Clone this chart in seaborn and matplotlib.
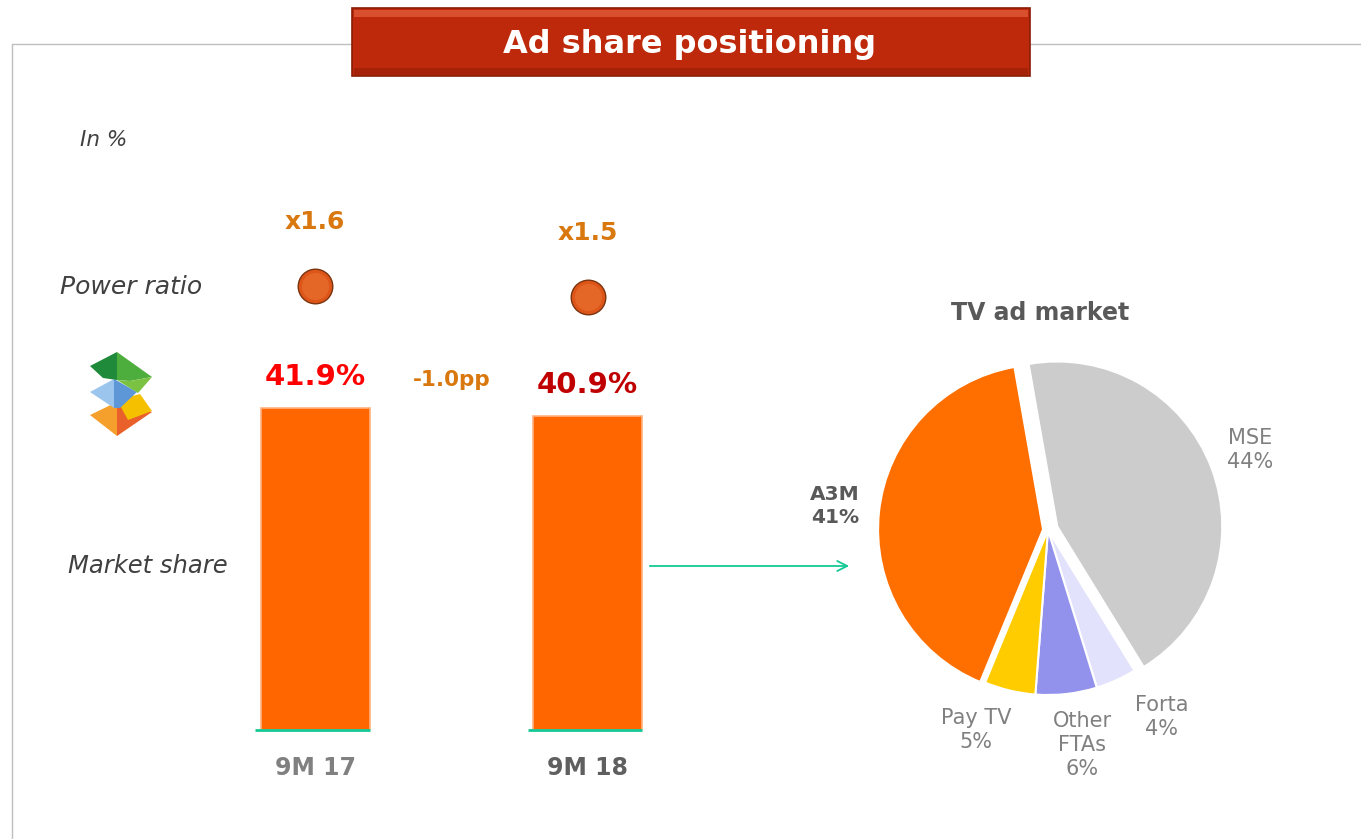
import matplotlib
matplotlib.use("Agg")
import matplotlib.pyplot as plt
from matplotlib.patches import Rectangle, Polygon
import seaborn as sns

# Chart data
periods = ["9M 17", "9M 18"]
market_share = [41.9, 40.9]
power_ratio = [1.6, 1.5]

pie_labels = ["MSE", "Forta", "Other\nFTAs", "Pay TV", "A3M"]
pie_values = [44, 4, 6, 5, 41]

# Styling
W, H = 1361, 839
BAR_COLOR = "#FF6600"
PIE_COLORS = ["#CCCCCC", "#E2E2FC", "#9292EC", "#FFCC00", "#FF6F00"]
ACCENT = "#D9780F"
TEAL = "#14C995"


def px_rect(left, top, width, height):
    """Axes rectangle from pixel coordinates (origin top-left)."""
    return [left / W, (H - top - height) / H, width / W, height / H]


def draw_logo(ax):
    # rough sketch of the group logo: three stacked pyramids
    shapes = [
        ([(90, 415), (117, 402), (117, 436)], "#F5A02C"),
        ([(117, 402), (152, 412), (117, 436)], "#E9602A"),
        ([(117, 400), (140, 394), (152, 411), (128, 420)], "#F5C000"),
        ([(90, 392), (114, 379), (114, 408)], "#9CC5EE"),
        ([(114, 379), (137, 392), (120, 408), (114, 408)], "#5E97D8"),
        ([(90, 366), (117, 352), (117, 380), (103, 378)], "#1E8A3A"),
        ([(117, 352), (152, 377), (130, 381), (117, 380)], "#4DAE3D"),
        ([(117, 380), (130, 381), (152, 377), (138, 393)], "#7CC242"),
    ]
    for pts, col in shapes:
        ax.add_patch(Polygon(pts, closed=True, facecolor=col, edgecolor="none"))


def generate_visuals():
    sns.set_theme(style="white")
    plt.rcParams["font.family"] = ["DejaVu Sans"]

    fig = plt.figure(figsize=(W / 100, H / 100), dpi=100)

    # --- Background layer in pixel coordinates ---
    bg = fig.add_axes([0, 0, 1, 1])
    bg.set_xlim(0, W)
    bg.set_ylim(H, 0)
    bg.axis("off")

    bg.plot([12, W], [44, 44], color="#BFBFBF", lw=1)
    bg.plot([12, 12], [44, H], color="#BFBFBF", lw=1)

    bg.add_patch(Rectangle((352, 8), 678, 68, facecolor="#BF290B",
                           edgecolor="#8A1C06", lw=1.2, zorder=3))
    bg.add_patch(Rectangle((354, 10), 674, 7, facecolor="#D9502E",
                           edgecolor="none", zorder=3))
    bg.add_patch(Rectangle((354, 68), 674, 7, facecolor="#A52208",
                           edgecolor="none", zorder=3))
    bg.text(690, 44, "Ad share positioning", color="white", fontsize=23,
            fontweight="bold", ha="center", va="center", zorder=4)

    for txt, x, y, fs in [("In %", 80, 140, 15.5), ("Power ratio", 60, 287, 18),
                          ("Market share", 68, 566, 17.5)]:
        bg.text(x, y, txt, fontsize=fs, style="italic", color="#404040",
                ha="left", va="center")

    draw_logo(bg)

    bg.annotate("", xy=(852, 566), xytext=(647, 566),
                arrowprops=dict(arrowstyle="->", color=TEAL, lw=1.3,
                                mutation_scale=18))

    bg.text(1040, 313, "TV ad market", fontsize=17, fontweight="bold",
            color="#595959", ha="center", va="center")

    # --- Market share bars ---
    ax = fig.add_axes(px_rect(179, 115.2, 545, 614.8))
    sns.barplot(x=periods, y=market_share, ax=ax, color=BAR_COLOR,
                saturation=1, width=0.4, edgecolor="#FFB27F", linewidth=1.2)
    ax.set_xlim(-0.5, 1.5)
    ax.set_ylim(0, 80)
    ax.patch.set_alpha(0)
    for s in ax.spines.values():
        s.set_visible(False)
    ax.set_yticks([])
    ax.set_xlabel("")
    ax.set_ylabel("")
    ax.tick_params(axis="x", length=0, pad=19)
    for lbl, col in zip(ax.get_xticklabels(), ["#808080", "#5F5F5F"]):
        lbl.set_color(col)
        lbl.set_fontweight("bold")
        lbl.set_fontsize(17)

    for i in range(len(periods)):
        ax.hlines(0, i - 0.22, i + 0.2, color=TEAL, lw=2, clip_on=False)

    for i, (v, col) in enumerate(zip(market_share, ["#FF0000", "#C00000"])):
        ax.annotate(f"{v}%", xy=(i, v), xytext=(0, 22),
                    textcoords="offset points", ha="center", va="center",
                    fontsize=21, fontweight="bold", color=col)

    delta = market_share[1] - market_share[0]
    ax.annotate(f"{delta:+.1f}pp".replace("+", ""), xy=(0.5, sum(market_share) / 2),
                xytext=(0, 23), textcoords="offset points", ha="center",
                va="center", fontsize=15.5, fontweight="bold", color=ACCENT)

    # --- Power ratio spheres ---
    ax2 = fig.add_axes(px_rect(179, 115.2, 545, 614.8))
    ax2.set_xlim(-0.5, 1.5)
    ax2.set_ylim(-2.436, 3.153)
    sns.scatterplot(x=[0, 1], y=power_ratio, ax=ax2, s=620, color="#DD5518",
                    edgecolor="#7A3510", linewidth=1, legend=False, zorder=3)
    sns.scatterplot(x=[0, 1], y=power_ratio, ax=ax2, s=380, color="#F07E3A",
                    linewidth=0, alpha=0.45, legend=False, zorder=4)
    for i, r in enumerate(power_ratio):
        ax2.annotate(f"x{r}", xy=(i, r), xytext=(0, 46),
                     textcoords="offset points", ha="center", va="center",
                     fontsize=18, fontweight="bold", color=ACCENT)
    ax2.axis("off")

    # --- TV ad market pie ---
    R = 165
    cx, cy = 1048, 530
    axp = fig.add_axes(px_rect(cx - 1.35 * R, cy - 1.35 * R, 2.7 * R, 2.7 * R))
    axp.pie(pie_values, colors=PIE_COLORS, startangle=100, counterclock=False,
            explode=[0.06, 0, 0, 0, 0.03],
            wedgeprops=dict(edgecolor="white", linewidth=1.5))
    axp.set_xlim(-1.35, 1.35)
    axp.set_ylim(-1.35, 1.35)

    label_pos = [(1250, 450), (1162, 717), (1082, 745), (976, 730), (835, 506)]
    for name, val, (x, y) in zip(pie_labels, pie_values, label_pos):
        is_a3m = name == "A3M"
        bg.text(x, y, f"{name}\n{val}%", ha="center", va="center",
                fontsize=14.5 if is_a3m else 15,
                fontweight="bold" if is_a3m else "normal",
                color="#595959" if is_a3m else "#808080",
                linespacing=1.25, zorder=5)

    fig.savefig("out.png", dpi=100)
    plt.close(fig)


if __name__ == "__main__":
    generate_visuals()
